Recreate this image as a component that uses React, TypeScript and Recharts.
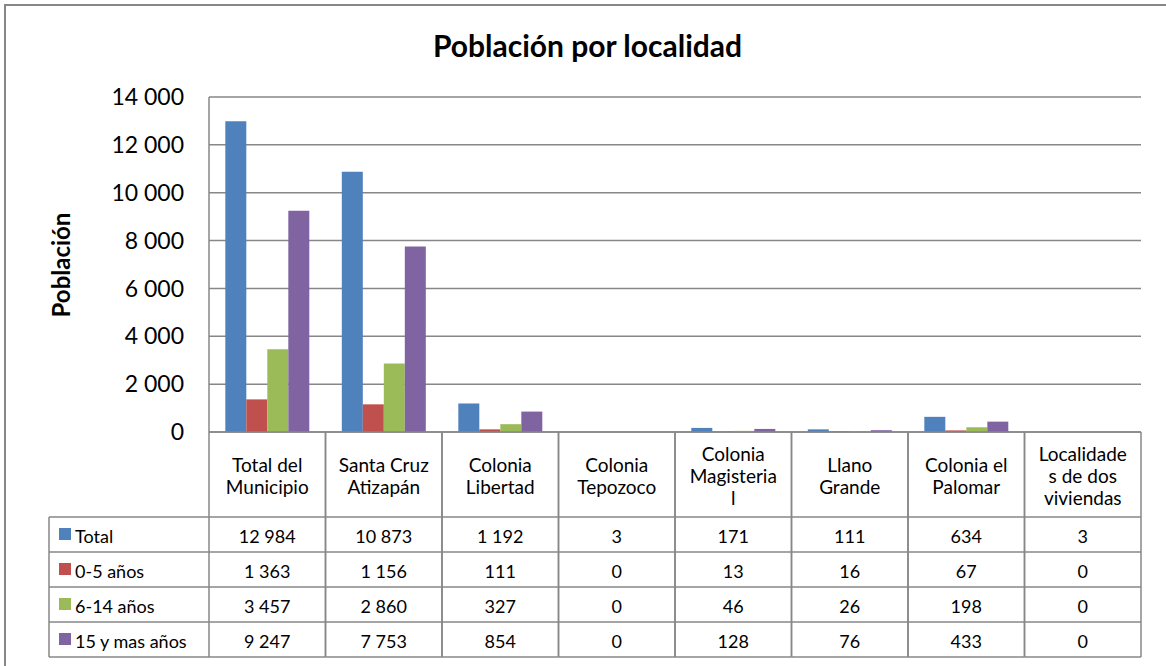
import { BarChart, Bar, XAxis, YAxis, CartesianGrid } from "recharts";

const categories = [
  "Total del\nMunicipio",
  "Santa Cruz\nAtizapán",
  "Colonia\nLibertad",
  "Colonia\nTepozoco",
  "Colonia\nMagisteria\nl",
  "Llano\nGrande",
  "Colonia el\nPalomar",
  "Localidade\ns de dos\nviviendas",
];

const total = [12984, 10873, 1192, 3, 171, 111, 634, 3];
const age0to5 = [1363, 1156, 111, 0, 13, 16, 67, 0];
const age6to14 = [3457, 2860, 327, 0, 46, 26, 198, 0];
const age15plus = [9247, 7753, 854, 0, 128, 76, 433, 0];

const yTicks = [0, 2000, 4000, 6000, 8000, 10000, 12000, 14000];

const SERIES = [
  { key: "total", name: "Total", color: "#4F81BD", values: total },
  { key: "a0", name: "0-5 años", color: "#C0504D", values: age0to5 },
  { key: "a6", name: "6-14 años", color: "#9BBB59", values: age6to14 },
  { key: "a15", name: "15 y mas años", color: "#8064A2", values: age15plus },
];

const data = categories.map((name, i) => {
  const row: Record<string, string | number> = { name };
  SERIES.forEach((s) => (row[s.key] = s.values[i]));
  return row;
});

const W = 1166;
const H = 666;
const MARGIN = { top: 97, right: 25, bottom: 9, left: 0 };
const Y_AXIS_W = 209;
const X_AXIS_H = 225;
const PLOT_W = W - MARGIN.left - MARGIN.right - Y_AXIS_W;

const GRID = "#878787";
const FONT = "Lato, 'Open Sans', sans-serif";
const HEADER_H = 85;
const ROW_H = 35;
const LEGEND_LEFT = 49;

const fmt = (v: number) => String(v).replace(/\B(?=(\d{3})+(?!\d))/g, " ");

// x axis tick = one column of the data table
function TableColumn(props: any) {
  const { x, y, payload } = props;
  const idx: number = payload.index;
  const band = PLOT_W / categories.length;
  const left = x - band / 2;
  const right = x + band / 2;
  const lines = String(payload.value).split("\n");
  const lh = 22;
  const headerMid = y + 43;
  const bottom = y + HEADER_H + ROW_H * SERIES.length;

  return (
    <g fontFamily={FONT} fontSize={18} fill="#000">
      <line x1={left} x2={left} y1={y} y2={bottom} stroke={GRID} strokeWidth={1.5} />
      <line x1={right} x2={right} y1={y} y2={bottom} stroke={GRID} strokeWidth={1.5} />
      {lines.map((t, k) => (
        <text
          key={k}
          x={x}
          y={headerMid + (k - (lines.length - 1) / 2) * lh}
          textAnchor="middle"
          dominantBaseline="central"
          fontSize={19}
        >
          {t}
        </text>
      ))}
      {SERIES.map((s, r) => {
        const top = y + HEADER_H + r * ROW_H;
        return (
          <g key={s.key}>
            <line x1={left} x2={right} y1={top} y2={top} stroke={GRID} strokeWidth={1.5} />
            <text x={x} y={top + ROW_H / 2 + 1} textAnchor="middle" dominantBaseline="central">
              {fmt(s.values[idx])}
            </text>
            {idx === 0 && (
              <g>
                <line x1={LEGEND_LEFT} x2={left} y1={top} y2={top} stroke={GRID} strokeWidth={1.5} />
                <rect x={LEGEND_LEFT + 10} y={top + 11} width={12} height={12} fill={s.color} />
                <text x={LEGEND_LEFT + 26} y={top + ROW_H / 2 + 1} dominantBaseline="central">
                  {s.name}
                </text>
              </g>
            )}
          </g>
        );
      })}
      <line x1={left} x2={right} y1={bottom} y2={bottom} stroke={GRID} strokeWidth={1.5} />
      {idx === 0 && (
        <g>
          <line x1={LEGEND_LEFT} x2={left} y1={bottom} y2={bottom} stroke={GRID} strokeWidth={1.5} />
          <line
            x1={LEGEND_LEFT}
            x2={LEGEND_LEFT}
            y1={y + HEADER_H}
            y2={bottom}
            stroke={GRID}
            strokeWidth={1.5}
          />
        </g>
      )}
    </g>
  );
}

export default function App() {
  return (
    <div
      style={{
        position: "absolute",
        left: 0,
        top: 0,
        width: W,
        height: H,
        overflow: "hidden",
        background: "#fff",
        fontFamily: FONT,
      }}
    >
      <div
        style={{
          position: "absolute",
          left: 4,
          top: 4,
          width: W + 40,
          height: H + 40,
          border: `2px solid ${GRID}`,
        }}
      />
      <div
        style={{
          position: "absolute",
          left: 0,
          top: 27,
          width: 1175,
          textAlign: "center",
          fontSize: 30,
          fontWeight: 700,
          color: "#000",
        }}
      >
        Población por localidad
      </div>
      <div
        style={{
          position: "absolute",
          left: 60,
          top: 265,
          transform: "translate(-50%, -50%) rotate(-90deg)",
          fontSize: 24,
          fontWeight: 700,
          whiteSpace: "nowrap",
          color: "#000",
        }}
      >
        Población
      </div>
      <div style={{ position: "absolute", left: 0, top: 0 }}>
        <BarChart
          width={W}
          height={H}
          data={data}
          margin={MARGIN}
          barCategoryGap="14%"
          barGap={0}
        >
          <CartesianGrid vertical={false} stroke={GRID} strokeWidth={1.5} />
          <XAxis
            dataKey="name"
            interval={0}
            height={X_AXIS_H}
            tickSize={0}
            tickMargin={0}
            axisLine={{ stroke: GRID, strokeWidth: 1.5 }}
            tick={(p: any) => <TableColumn {...p} />}
          />
          <YAxis
            width={Y_AXIS_W}
            domain={[0, 14000]}
            ticks={yTicks}
            interval={0}
            tickFormatter={fmt}
            tickSize={0}
            tickMargin={25}
            axisLine={{ stroke: GRID, strokeWidth: 1.5 }}
            tick={{ fill: "#000", fontSize: 23, fontFamily: FONT }}
          />
          {SERIES.map((s) => (
            <Bar key={s.key} dataKey={s.key} name={s.name} fill={s.color} isAnimationActive={false} />
          ))}
        </BarChart>
      </div>
    </div>
  );
}
